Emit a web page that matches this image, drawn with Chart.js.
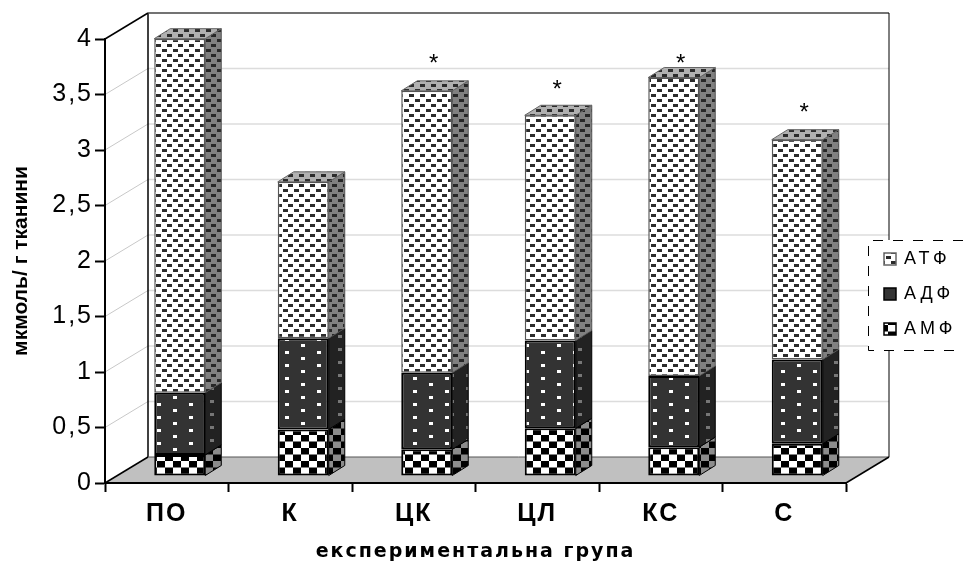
<!DOCTYPE html>
<html>
<head>
<meta charset="utf-8">
<title>Chart</title>
<script src="https://cdn.jsdelivr.net/npm/chart.js@4"></script>
<style>
  html, body { margin: 0; padding: 0; background: #fff; }
  canvas { display: block; }
</style>
</head>
<body>
<canvas id="chart" width="963" height="562"></canvas>
<script>
const categories = ['ПО', 'К', 'ЦК', 'ЦЛ', 'КС', 'С'];
const amf = [0.19, 0.42, 0.24, 0.43, 0.26, 0.29];
const adf = [0.56, 0.82, 0.69, 0.79, 0.64, 0.76];
const atf = [3.19, 1.41, 2.54, 2.03, 2.69, 1.98];
const stars = [null, null, 3.8, 3.56, 3.8, 3.36];
const legendNames = ['АТФ', 'АДФ', 'АМФ'];
const yTicks = [0, 0.5, 1, 1.5, 2, 2.5, 3, 3.5, 4];

// offsets of the fake 3D: wall behind the axes, bars in front of the wall
const wallDX = 43, wallDY = -26;
const barDX = 13, barDY = -7;
const sideDX = 16, sideDY = -10;

function makeTile(w, h, bg, fg, rects) {
    const c = document.createElement('canvas');
    c.width = w;
    c.height = h;
    const g = c.getContext('2d');
    g.fillStyle = bg;
    g.fillRect(0, 0, w, h);
    g.fillStyle = fg;
    rects.forEach(r => g.fillRect(r[0], r[1], r[2], r[3]));
    return g.createPattern(c, 'repeat');
}

const dashes = [[0, 1, 5, 3], [6, 6, 5, 3]];
const dots = [[0, 0, 4, 3], [16, 7, 4, 3]];
const checks = [[0, 0, 8, 6.5], [8, 6.5, 8, 6.5]];

const patterns = {
    atf: makeTile(11, 10, '#ffffff', '#2b2b2b', dashes),
    atfSide: makeTile(11, 10, '#808080', '#262626', dashes),
    atfTop: makeTile(11, 10, '#b0b0b0', '#2b2b2b', dashes),
    adf: makeTile(32, 13, '#333333', '#ffffff', dots),
    adfSide: makeTile(16, 13, '#222222', '#777777', [[5, 4, 4, 3]]),
    amf: makeTile(16, 13, '#ffffff', '#000000', checks),
    amfSide: makeTile(16, 13, '#8c8c8c', '#000000', checks)
};

function poly(ctx, pts, fill, stroke, lw) {
    ctx.beginPath();
    pts.forEach((p, i) => i ? ctx.lineTo(p[0], p[1]) : ctx.moveTo(p[0], p[1]));
    ctx.closePath();
    if (fill) {
        ctx.fillStyle = fill;
        ctx.fill();
    }
    if (stroke) {
        ctx.strokeStyle = stroke;
        ctx.lineWidth = lw || 1;
        ctx.stroke();
    }
}

function line(ctx, x1, y1, x2, y2, color, lw) {
    ctx.beginPath();
    ctx.moveTo(x1, y1);
    ctx.lineTo(x2, y2);
    ctx.strokeStyle = color;
    ctx.lineWidth = lw;
    ctx.stroke();
}

const walls = {
    id: 'walls',
    afterLayout(chart) {
        // the vertical title is not spread out like the other text
        const scale = chart.scales.y;
        const drawTitle = scale.drawTitle;
        if (scale.titlePatched) return;
        scale.titlePatched = true;
        scale.drawTitle = function () {
            chart.ctx.save();
            chart.ctx.letterSpacing = '0px';
            drawTitle.call(scale);
            chart.ctx.restore();
        };
    },
    beforeDraw(chart) {
        const { ctx, chartArea: a, scales } = chart;
        ctx.letterSpacing = '2px';
        const l = a.left, r = a.right, t = a.top, b = a.bottom;
        // floor
        poly(ctx, [[l, b], [l + wallDX, b + wallDY], [r + wallDX, b + wallDY], [r, b]], '#c0c0c0');
        // grid lines on the side and back walls
        yTicks.slice(1, -1).forEach(v => {
            const y = scales.y.getPixelForValue(v);
            line(ctx, l, y, l + wallDX, y + wallDY, '#c8c8c8', 1);
            line(ctx, l + wallDX, y + wallDY, r + wallDX, y + wallDY, '#dcdcdc', 1.5);
        });
        // wall outlines
        line(ctx, l, t, l + wallDX, t + wallDY, '#000', 1.5);
        line(ctx, l, b, l + wallDX, b + wallDY, '#000', 1.5);
        line(ctx, l + wallDX, t + wallDY, l + wallDX, b + wallDY, '#000', 1.5);
        line(ctx, l + wallDX, t + wallDY, r + wallDX, t + wallDY, '#444', 1.5);
        line(ctx, r + wallDX, t + wallDY, r + wallDX, b + wallDY, '#000', 1);
        line(ctx, l + wallDX, b + wallDY, r + wallDX, b + wallDY, '#555', 1);
        line(ctx, r, b, r + wallDX, b + wallDY, '#000', 1.5);
    }
};

const bars3d = {
    id: 'bars3d',
    beforeDatasetsDraw(chart) {
        const ctx = chart.ctx;
        ctx.save();
        ctx.translate(barDX, barDY);
        const sides = [patterns.amfSide, patterns.adfSide, patterns.atfSide];
        sides.forEach((fill, i) => {
            chart.getDatasetMeta(i).data.forEach(bar => {
                const right = bar.x + bar.width / 2;
                poly(ctx, [[right, bar.y], [right + sideDX, bar.y + sideDY],
                    [right + sideDX, bar.base + sideDY], [right, bar.base]], fill, i === 2 ? '#555' : '#000', 1);
            });
        });
        chart.getDatasetMeta(2).data.forEach(bar => {
            const left = bar.x - bar.width / 2, right = bar.x + bar.width / 2;
            poly(ctx, [[left, bar.y], [left + sideDX, bar.y + sideDY],
                [right + sideDX, bar.y + sideDY], [right, bar.y]], patterns.atfTop, '#666', 1);
        });
    },
    afterDatasetsDraw(chart) {
        const ctx = chart.ctx;
        const meta = chart.getDatasetMeta(2);
        // stars sit a little right of the bar centre
        ctx.fillStyle = '#000';
        ctx.font = '24px "Liberation Sans"';
        ctx.textAlign = 'center';
        ctx.textBaseline = 'middle';
        stars.forEach((v, i) => {
            if (v === null) return;
            ctx.fillText('*', meta.data[i].x + 8, chart.scales.y.getPixelForValue(v) + 10);
        });
        ctx.restore();
        drawLegend(ctx);
    }
};

function drawLegend(ctx) {
    const left = 868, top = 240, bottom = 350;
    const swatches = [patterns.atf, patterns.adf, patterns.amf];
    ctx.save();
    ctx.fillStyle = '#fff';
    ctx.fillRect(left, top, 963 - left, bottom - top);
    ctx.setLineDash([10, 10]);
    ctx.strokeStyle = '#000';
    ctx.lineWidth = 1;
    ctx.beginPath();
    ctx.moveTo(963, top + 0.5);
    ctx.lineTo(left + 0.5, top + 0.5);
    ctx.lineTo(left + 0.5, bottom + 0.5);
    ctx.lineTo(963, bottom + 0.5);
    ctx.stroke();
    ctx.setLineDash([]);
    ctx.font = '18px "Liberation Sans"';
    ctx.letterSpacing = '4px';
    ctx.textAlign = 'left';
    ctx.textBaseline = 'middle';
    legendNames.forEach((name, i) => {
        const y = 259 + i * 35;
        ctx.fillStyle = swatches[i];
        ctx.fillRect(884, y - 6, 12, 12);
        ctx.strokeStyle = i === 0 ? '#666' : '#000';
        ctx.lineWidth = 1.5;
        ctx.strokeRect(884, y - 6, 12, 12);
        ctx.fillStyle = '#000';
        ctx.fillText(name, 904, y);
    });
    ctx.restore();
}

const barStyle = { borderSkipped: false, clip: false, barPercentage: 0.413, categoryPercentage: 1 };

new Chart(document.getElementById('chart'), {
    type: 'bar',
    data: {
        labels: categories,
        datasets: [
            { label: legendNames[2], data: amf, backgroundColor: patterns.amf, borderColor: '#000', borderWidth: 2, ...barStyle },
            { label: legendNames[1], data: adf, backgroundColor: patterns.adf, borderColor: '#000', borderWidth: 2, ...barStyle },
            { label: legendNames[0], data: atf, backgroundColor: patterns.atf, borderColor: '#555', borderWidth: 1.5, ...barStyle }
        ]
    },
    options: {
        responsive: false,
        animation: false,
        devicePixelRatio: 1,
        layout: { padding: { left: 0, top: 39, right: 117, bottom: 0 } },
        plugins: { legend: { display: false }, tooltip: { enabled: false } },
        scales: {
            x: {
                stacked: true,
                afterFit: scale => { scale.height = 79; },
                border: { color: '#000', width: 2 },
                grid: { drawOnChartArea: false, color: '#000', tickColor: '#000', tickWidth: 2, tickLength: 9 },
                ticks: { color: '#000', padding: 7, font: { family: '"Liberation Sans"', size: 25, weight: 'bold' } },
                title: {
                    display: true,
                    text: 'експериментальна група',
                    color: '#000',
                    padding: 0,
                    font: { family: '"DejaVu Sans"', size: 19, weight: 'bold', lineHeight: 1 }
                }
            },
            y: {
                stacked: true,
                min: 0,
                max: 4,
                afterFit: scale => { scale.width = 105; },
                border: { color: '#000', width: 2 },
                grid: { drawOnChartArea: false, tickColor: '#000', tickWidth: 2, tickLength: 10 },
                ticks: {
                    color: '#000',
                    padding: 2,
                    stepSize: 0.5,
                    font: { family: '"Liberation Sans"', size: 25 },
                    callback: v => String(v).replace('.', ',')
                },
                title: {
                    display: true,
                    text: 'мкмоль/ г тканини',
                    color: '#000',
                    padding: { top: 9, bottom: 0 },
                    font: { family: '"Liberation Sans"', size: 21, weight: 'bold' }
                }
            }
        }
    },
    plugins: [walls, bars3d]
});
</script>
</body>
</html>
